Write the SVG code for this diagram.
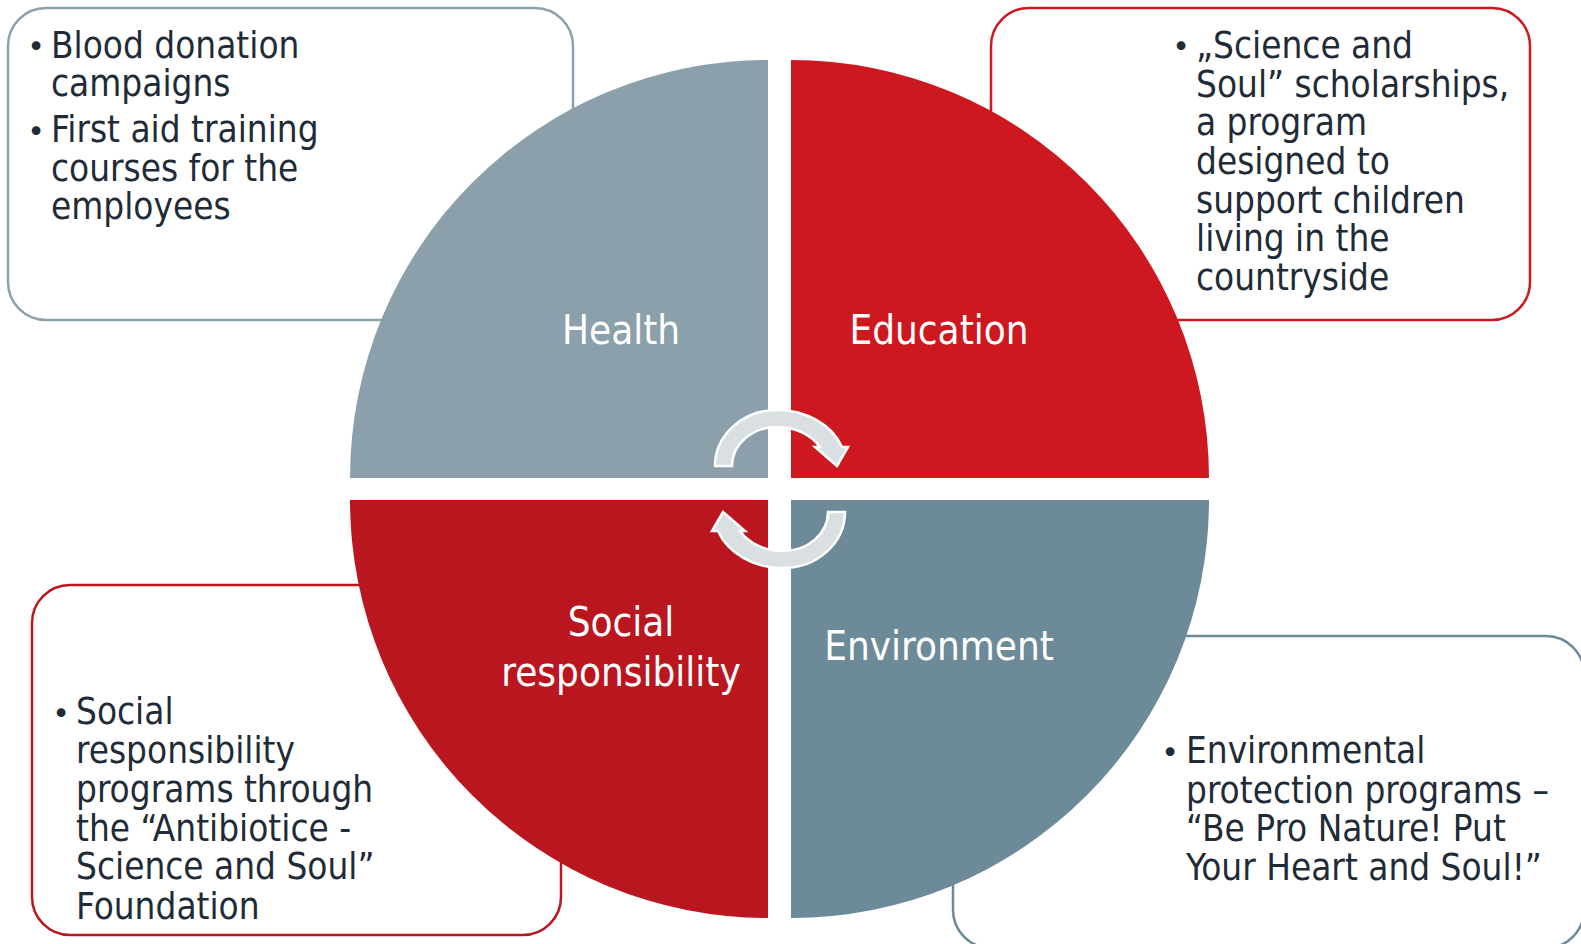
<svg xmlns="http://www.w3.org/2000/svg" width="1581" height="944" viewBox="0 0 1581 944">
<defs>
<style>
.box{fill:#ffffff;stroke-width:2.5}
.grey{stroke:#8DA1AB}
.dgrey{stroke:#6C8A97}
.red{stroke:#CD1820}
.dred{stroke:#BA161F}
.t{font-family:"DejaVu Sans Condensed","DejaVu Sans","Liberation Sans",sans-serif;font-stretch:condensed;font-size:36.6px;fill:#1F2B36}
.b{font-family:"DejaVu Sans","Liberation Sans",sans-serif;font-size:30px;fill:#1F2B36;text-anchor:middle}
.lbl{font-family:"DejaVu Sans Condensed","DejaVu Sans","Liberation Sans",sans-serif;font-stretch:condensed;font-size:40px;fill:#ffffff;text-anchor:middle}
.arr{fill:#DADFE2;stroke:#ffffff;stroke-width:2.5;stroke-linejoin:miter}
</style>
</defs>
<rect width="1581" height="944" fill="#ffffff"/>

<g id="box-health">
<rect class="box grey" x="8" y="8" width="565" height="312" rx="38"/>
<text class="b" x="36" y="57">•</text>
<text class="b" x="36" y="142">•</text>
<text class="t"><tspan x="51" y="57.5">Blood donation</tspan><tspan x="51" y="96">campaigns</tspan><tspan x="51" y="142">First aid training</tspan><tspan x="51" y="181">courses for the</tspan><tspan x="51" y="219">employees</tspan></text>
</g>

<g id="box-education">
<rect class="box red" x="991" y="8" width="539" height="312" rx="38"/>
<text class="b" x="1181" y="57">•</text>
<text class="t"><tspan x="1196" y="57.5">„Science and</tspan><tspan x="1196" y="96.5">Soul” scholarships,</tspan><tspan x="1196" y="135">a program</tspan><tspan x="1196" y="174">designed to</tspan><tspan x="1196" y="212.5">support children</tspan><tspan x="1196" y="251">living in the</tspan><tspan x="1196" y="290">countryside</tspan></text>
</g>

<g id="box-social">
<rect class="box dred" x="32" y="585" width="529" height="350" rx="38"/>
<text class="b" x="61" y="724">•</text>
<text class="t"><tspan x="76" y="724">Social</tspan><tspan x="76" y="763">responsibility</tspan><tspan x="76" y="801.5">programs through</tspan><tspan x="76" y="841">the “Antibiotice -</tspan><tspan x="76" y="879">Science and Soul”</tspan><tspan x="76" y="918.5">Foundation</tspan></text>
</g>

<g id="box-environment">
<rect class="box dgrey" x="953" y="636" width="631" height="312" rx="38"/>
<text class="b" x="1170" y="763">•</text>
<text class="t"><tspan x="1186" y="763">Environmental</tspan><tspan x="1186" y="802.5">protection programs –</tspan><tspan x="1186" y="841">“Be Pro Nature! Put</tspan><tspan x="1186" y="880">Your Heart and Soul!”</tspan></text>
</g>

<g id="health">
<path d="M768 478 L350 478 A418 418 0 0 1 768 60 Z" fill="#8BA0AA"/>
<text class="lbl" x="621" y="344">Health</text>
</g>
<g id="education">
<path d="M791 478 L791 60 A418 418 0 0 1 1209 478 Z" fill="#CD1820"/>
<text class="lbl" x="939" y="344">Education</text>
</g>
<g id="social-responsibility">
<path d="M768 500 L768 918 A418 418 0 0 1 350 500 Z" fill="#BA161F"/>
<text class="lbl"><tspan x="621" y="636">Social</tspan><tspan x="621" y="685.5">responsibility</tspan></text>
</g>
<g id="environment">
<path d="M791 500 L1209 500 A418 418 0 0 1 791 918 Z" fill="#6C8A97"/>
<text class="lbl" x="939" y="660">Environment</text>
</g>

<g id="connectors">
<path id="cycle-arrow-top" class="arr" d="M715 466 A62 56 0 0 1 777 410 A69 56 0 0 1 842 447 L848 447 L837 466 L815 447 L820 447 A49 39 0 0 0 777 427 A45 39 0 0 0 732 466 Z"/>
<path id="cycle-arrow-bottom" class="arr" transform="rotate(180 780 489)" d="M715 466 A62 56 0 0 1 777 410 A69 56 0 0 1 842 447 L848 447 L837 466 L815 447 L820 447 A49 39 0 0 0 777 427 A45 39 0 0 0 732 466 Z"/>
</g>
</svg>
